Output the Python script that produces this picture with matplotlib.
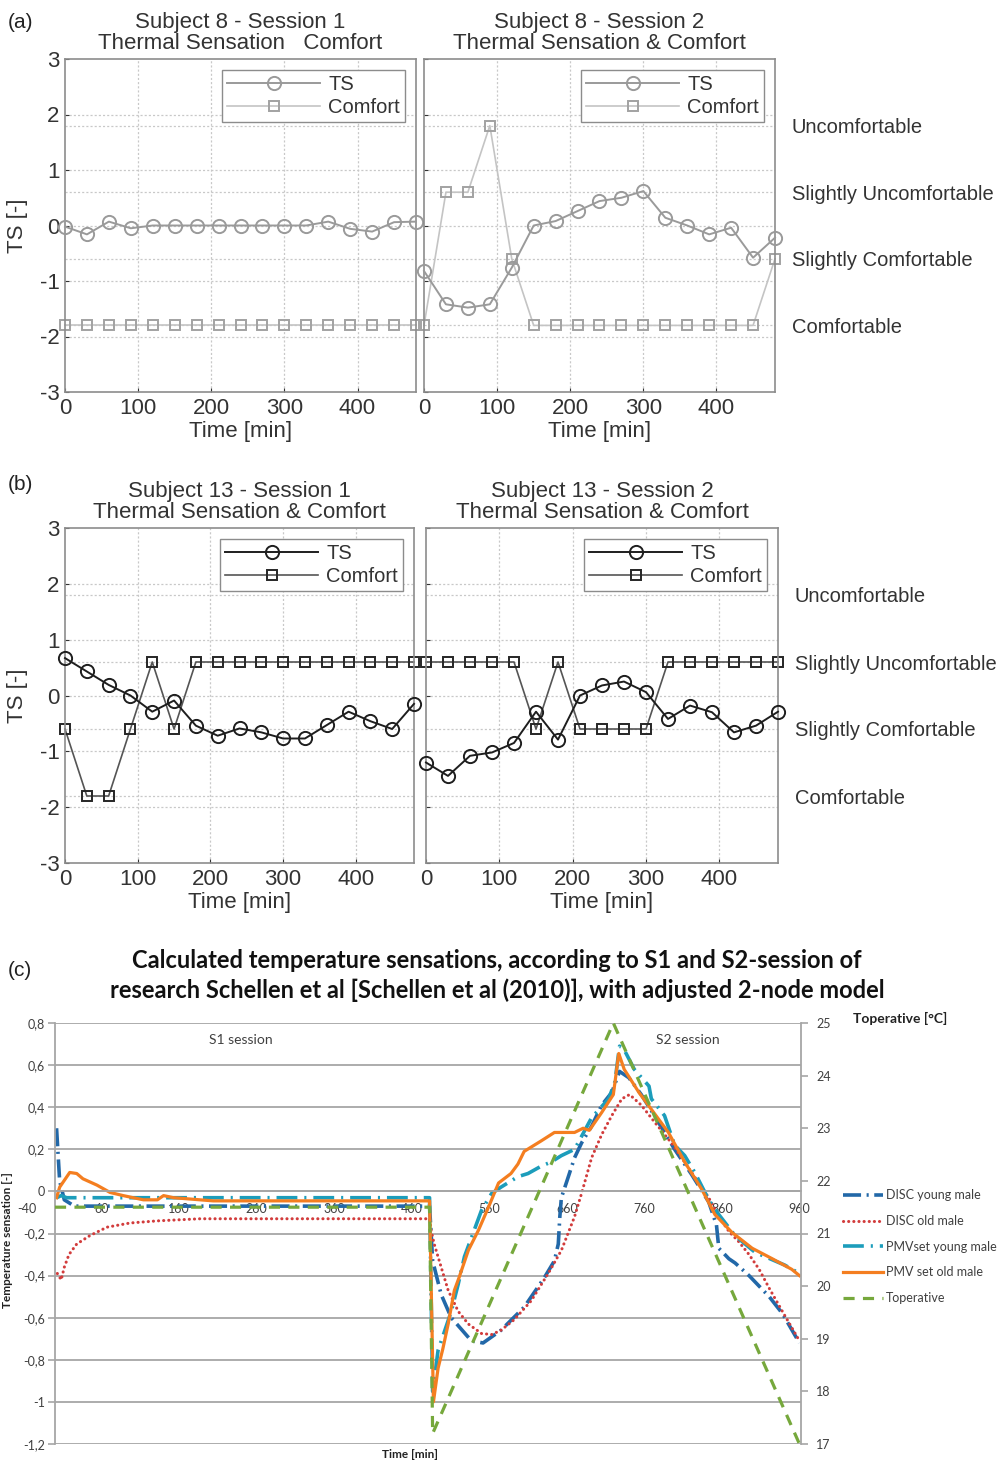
import numpy as np
import matplotlib
matplotlib.use("Agg")
import matplotlib.pyplot as plt
from matplotlib.lines import Line2D

plt.rcParams['font.family'] = ['Liberation Sans', 'DejaVu Sans']
plt.rcParams['lines.scale_dashes'] = False
plt.rcParams['axes.unicode_minus'] = False

W, H = 1004, 1465

# ---------------- (a)/(b): measured TS and comfort, every 30 min
time = [0, 30, 60, 90, 120, 150, 180, 210, 240, 270, 300, 330, 360, 390, 420, 450, 480]
comfort_levels = [-1.8, -0.6, 0.6, 1.8]
comfort_names = ["Comfortable", "Slightly Comfortable", "Slightly Uncomfortable", "Uncomfortable"]

s8_1_ts = [-0.02, -0.16, 0.07, -0.05, 0, 0, 0, 0, 0, 0, 0, 0, 0.07, -0.06, -0.11, 0.06, 0.07]
s8_1_cf = [-1.8, -1.8, -1.8, -1.8, -1.8, -1.8, -1.8, -1.8, -1.8, -1.8, -1.8, -1.8, -1.8, -1.8, -1.8, -1.8, -1.8]
s8_2_ts = [-0.82, -1.42, -1.48, -1.42, -0.76, 0.0, 0.08, 0.26, 0.44, 0.5, 0.62, 0.14, 0.0, -0.16, -0.04, -0.58, -0.22]
s8_2_cf = [-1.8, 0.6, 0.6, 1.8, -0.6, -1.8, -1.8, -1.8, -1.8, -1.8, -1.8, -1.8, -1.8, -1.8, -1.8, -1.8, -0.6]
s13_1_ts = [0.67, 0.43, 0.19, 0.0, -0.29, -0.09, -0.54, -0.72, -0.59, -0.66, -0.77, -0.77, -0.53, -0.29, -0.46, -0.6, -0.15]
s13_1_cf = [-0.6, -1.8, -1.8, -0.6, 0.6, -0.6, 0.6, 0.6, 0.6, 0.6, 0.6, 0.6, 0.6, 0.6, 0.6, 0.6, 0.6]
s13_2_ts = [-1.2, -1.44, -1.08, -1.02, -0.85, -0.29, -0.79, 0.0, 0.18, 0.25, 0.06, -0.42, -0.18, -0.3, -0.66, -0.54, -0.29]
s13_2_cf = [0.6, 0.6, 0.6, 0.6, 0.6, -0.6, 0.6, -0.6, -0.6, -0.6, -0.6, 0.6, 0.6, 0.6, 0.6, 0.6, 0.6]

# ---------------- (c): calculated sensations (t [min], sensation [-])
dy_t = [2, 6, 12, 25, 483, 485, 487, 498, 511, 537, 552, 575, 605, 631, 644, 649, 651, 653, 662, 670, 679,
        692, 705, 718, 728, 740, 756, 773, 799, 821, 843, 853, 856, 869, 877, 895, 921, 938, 960]
dy_s = [0.30, 0.05, -0.04, -0.07, -0.07, -0.20, -0.33, -0.49, -0.60, -0.71, -0.72, -0.66, -0.55, -0.41, -0.33,
        -0.25, -0.12, -0.03, 0.07, 0.16, 0.23, 0.31, 0.41, 0.47, 0.57, 0.54, 0.46, 0.36, 0.20, 0.08, -0.05,
        -0.16, -0.27, -0.32, -0.34, -0.40, -0.50, -0.58, -0.72]

do_t = [3, 8, 12, 18, 28, 45, 67, 97, 132, 187, 483, 485, 489, 498, 507, 520, 533, 550, 563, 575, 592, 614,
        636, 653, 670, 679, 692, 705, 718, 731, 741, 756, 773, 795, 821, 843, 856, 869, 882, 895, 908, 921,
        938, 960]
do_s = [-0.39, -0.42, -0.36, -0.30, -0.25, -0.21, -0.17, -0.15, -0.14, -0.13, -0.13, -0.185, -0.25, -0.36,
        -0.47, -0.57, -0.63, -0.675, -0.68, -0.66, -0.61, -0.52, -0.39, -0.28, -0.12, -0.01, 0.16, 0.27,
        0.36, 0.44, 0.46, 0.41, 0.33, 0.23, 0.09, -0.03, -0.12, -0.19, -0.24, -0.30, -0.37, -0.46, -0.57,
        -0.71]

py_t = [2, 8, 15, 483, 487, 494, 500, 511, 520, 528, 537, 550, 563, 575, 597, 610, 627, 640, 653, 670, 692,
        714, 722, 728, 733, 747, 766, 769, 786, 799, 812, 825, 843, 856, 877, 903, 941, 960]
py_s = [-0.03, -0.02, -0.03, -0.03, -0.95, -0.755, -0.69, -0.57, -0.44, -0.31, -0.22, -0.09, -0.01, 0.02,
        0.07, 0.085, 0.12, 0.14, 0.17, 0.20, 0.35, 0.44, 0.52, 0.69, 0.68, 0.58, 0.50, 0.44, 0.36, 0.22,
        0.17, 0.09, -0.04, -0.11, -0.21, -0.29, -0.35, -0.39]

po_t = [2, 6, 19, 28, 36, 54, 71, 88, 114, 132, 140, 153, 204, 483, 488, 494, 500, 507, 515, 521, 533, 546,
        559, 572, 588, 597, 605, 627, 644, 670, 681, 689, 705, 720, 727, 734, 753, 769, 791, 812, 834, 851,
        873, 899, 925, 950, 960]
po_s = [-0.03, 0.02, 0.09, 0.085, 0.06, 0.03, -0.005, -0.02, -0.04, -0.04, -0.02, -0.03, -0.045, -0.045,
        -1.0, -0.84, -0.75, -0.63, -0.47, -0.41, -0.28, -0.185, -0.075, 0.04, 0.085, 0.13, 0.19, 0.24, 0.28,
        0.28, 0.30, 0.29, 0.375, 0.46, 0.655, 0.58, 0.47, 0.39, 0.28, 0.14, 0.01, -0.11, -0.195, -0.27,
        -0.32, -0.37, -0.40]

top_t = [0, 483, 487, 720, 960]
top_T = [21.5, 21.5, 17.2, 25.0, 17.0]

c_xticks = [60, 160, 260, 360, 460, 560, 660, 760, 860, 960]
c_yticks = [0.8, 0.6, 0.4, 0.2, 0, -0.2, -0.4, -0.6, -0.8, -1, -1.2]
c_ylabels = ["0,8", "0,6", "0,4", "0,2", "0", "-0,2", "-0,4", "-0,6", "-0,8", "-1", "-1,2"]
t_ticks = [17, 18, 19, 20, 21, 22, 23, 24, 25]


def rect(x0, y0, x1, y1):
    return [x0 / W, 1 - y1 / H, (x1 - x0) / W, (y1 - y0) / H]


fig = plt.figure(figsize=(W / 100, H / 100), dpi=100)
txt = '#333333'
fs = 16


def subject_panel(r, title, ts, cf, dark, left, levels):
    ax = fig.add_axes(r)
    if dark:
        c_ts, c_cfl, c_cfm = '#1e1e1e', '#555555', '#262626'
    else:
        c_ts, c_cfl, c_cfm = '#9a9a9a', '#c4c4c4', '#a2a2a2'
    for lv in [-2, -1, 0, 1, 2] + comfort_levels:
        ax.axhline(lv, ls=(0, (1.5, 1.5)), color='#c8c8c8', lw=0.9, zorder=0)
    for xv in [100, 200, 300, 400]:
        ax.axvline(xv, ls=(0, (1.5, 1.5)), color='#c8c8c8', lw=0.9, zorder=0)
    ax.plot(time, ts, color=c_ts, lw=1.4, marker='o', ms=9.5, mfc='none', mec=c_ts, mew=1.4,
            label='TS', clip_on=False, zorder=3)
    ax.plot(time, cf, color=c_cfl, lw=1.2, marker='s', ms=7.5, mfc='none', mec=c_cfm, mew=1.4,
            label='Comfort', clip_on=False, zorder=2)
    ax.set_xlim(0, 480)
    ax.set_ylim(-3, 3)
    ax.set_xticks([0, 100, 200, 300, 400])
    ax.set_yticks([-3, -2, -1, 0, 1, 2, 3])
    ax.tick_params(direction='in', length=3, labelsize=fs, colors=txt, pad=4)
    for sp in ax.spines.values():
        sp.set_color('#8c8c8c')
        sp.set_linewidth(1.2)
    ax.set_xlabel('Time [min]', fontsize=fs, color=txt, labelpad=2)
    if left:
        ax.set_ylabel('TS [-]', fontsize=fs, color=txt)
        ax.yaxis.set_label_coords(-0.105, 0.5)
    else:
        ax.set_yticklabels([])
    ax.set_title(title, fontsize=fs, color=txt, linespacing=1.0, pad=7)
    leg = ax.legend(loc='upper right', fontsize=14.5, handlelength=4.6, borderaxespad=0.55,
                    fancybox=False, framealpha=1, edgecolor='#8c8c8c', borderpad=0.25,
                    labelspacing=0.2, handletextpad=0.4)
    for t in leg.get_texts():
        t.set_color(txt)
    if levels:
        ax2 = ax.twinx()
        ax2.set_ylim(-3, 3)
        ax2.set_yticks(comfort_levels, comfort_names)
        ax2.tick_params(length=0, pad=12, labelsize=14.5, colors=txt)
        for sp in ax2.spines.values():
            sp.set_visible(False)
    return ax


subject_panel(rect(65, 59, 416, 392), "Subject 8 - Session 1\nThermal Sensation   Comfort",
              s8_1_ts, s8_1_cf, False, True, False)
subject_panel(rect(424, 59, 775, 392), "Subject 8 - Session 2\nThermal Sensation & Comfort",
              s8_2_ts, s8_2_cf, False, False, True)
subject_panel(rect(65, 528, 414, 863), "Subject 13 - Session 1\nThermal Sensation & Comfort",
              s13_1_ts, s13_1_cf, True, True, False)
subject_panel(rect(426, 528, 778, 863), "Subject 13 - Session 2\nThermal Sensation & Comfort",
              s13_2_ts, s13_2_cf, True, False, True)

fig.text(8 / W, 1 - 22 / H, "(a)", fontsize=15, color='#222222', va='center')
fig.text(8 / W, 1 - 484 / H, "(b)", fontsize=15, color='#222222', va='center')
fig.text(8 / W, 1 - 970 / H, "(c)", fontsize=15, color='#222222', va='center')

# ---------------- (c)
cal = ['Lato', 'DejaVu Sans']
gcol = '#a6a6a6'
axc = fig.add_axes(rect(55, 1023, 801, 1444))
axc.set_xlim(0, 962)
axc.set_ylim(-1.2, 0.8)
axc.set_yticks(c_yticks, c_ylabels)
axc.yaxis.grid(True, color=gcol, lw=1.3)
axc.set_axisbelow(True)
axc.spines['top'].set_visible(False)
for side in ['left', 'right', 'bottom']:
    axc.spines[side].set_color(gcol)
    axc.spines[side].set_linewidth(1.3)
axc.spines['bottom'].set_position(('data', 0))
axc.set_xticks(c_xticks)
axc.tick_params(axis='x', length=0, pad=8, labelsize=9, labelcolor='#404040')
axc.tick_params(axis='y', length=5, width=1.2, color=gcol, pad=2, labelsize=9, labelcolor='#404040')
for lab in axc.get_xticklabels() + axc.get_yticklabels():
    lab.set_family(cal)
axc.annotate("-40", xy=(-36, 0), xytext=(0, -8), textcoords='offset points', ha='center', va='top',
             fontsize=9, color='#404040', family=cal, annotation_clip=False)

axc.plot(dy_t, dy_s, color='#2268a8', lw=2.6, ls=(0, (13, 4, 1.5, 4)))
axc.plot(do_t, do_s, color='#d23c3c', lw=2.2, ls=(0, (0.1, 3.6)), dash_capstyle='round')
axc.plot(py_t, py_s, color='#1c9dbb', lw=2.6, ls=(0, (15, 5, 1.5, 5)))
axc.plot(po_t, po_s, color='#f47e20', lw=2.3)

axt = axc.twinx()
axt.set_ylim(17, 25)
axt.set_yticks(t_ticks)
axt.plot(top_t, top_T, color='#76a83c', lw=2.3, ls=(0, (8, 6)))
for sp in axt.spines.values():
    sp.set_visible(False)
axt.tick_params(axis='y', length=5, width=1.2, color=gcol, pad=6, labelsize=9, labelcolor='#404040')
for lab in axt.get_yticklabels():
    lab.set_family(cal)

axc.text(239, 0.717, "S1 session", ha='center', va='center', fontsize=10, color='#404040', family=cal)
axc.text(816, 0.717, "S2 session", ha='center', va='center', fontsize=10, color='#404040', family=cal)

fig.text(497 / W, 1 - 960 / H, "Calculated temperature sensations, according to S1 and S2-session of",
         ha='center', va='center', fontsize=17, weight='bold', family=cal, color='#111111')
fig.text(497 / W, 1 - 990 / H, "research Schellen et al [Schellen et al (2010)], with adjusted 2-node model",
         ha='center', va='center', fontsize=17, weight='bold', family=cal, color='#111111')
fig.text(410 / W, 1 - 1455 / H, "Time [min]", ha='center', va='center', fontsize=8.5, weight='bold',
         family=cal, color='#222222')
fig.text(8 / W, 1 - 1240 / H, "Temperature sensation [-]", ha='center', va='center', rotation=90,
         fontsize=8.5, weight='bold', family=cal, color='#222222')
fig.text(900 / W, 1 - 1018 / H, "Toperative [°C]", ha='center', va='center', fontsize=10, weight='bold',
         family=cal, color='#222222')

handles = [Line2D([], [], color='#2268a8', lw=2.6, ls=(0, (13, 4, 1.5, 4))),
           Line2D([], [], color='#d23c3c', lw=2.2, ls=(0, (0.1, 3.6)), dash_capstyle='round'),
           Line2D([], [], color='#1c9dbb', lw=2.6, ls=(0, (15, 5, 1.5, 5))),
           Line2D([], [], color='#f47e20', lw=2.3),
           Line2D([], [], color='#76a83c', lw=2.3, ls=(0, (8, 6)))]
labels = ["DISC young male", "DISC old male", "PMVset young male", "PMV set old male", "Toperative"]
leg = fig.legend(handles, labels, loc='upper left', bbox_to_anchor=(832 / W, 1 - 1178 / H), frameon=False,
                 handlelength=3.2, labelspacing=1.1, handletextpad=0.2,
                 prop={'family': cal, 'size': 9})
for t in leg.get_texts():
    t.set_color('#404040')

fig.savefig('out.png', dpi=100)
